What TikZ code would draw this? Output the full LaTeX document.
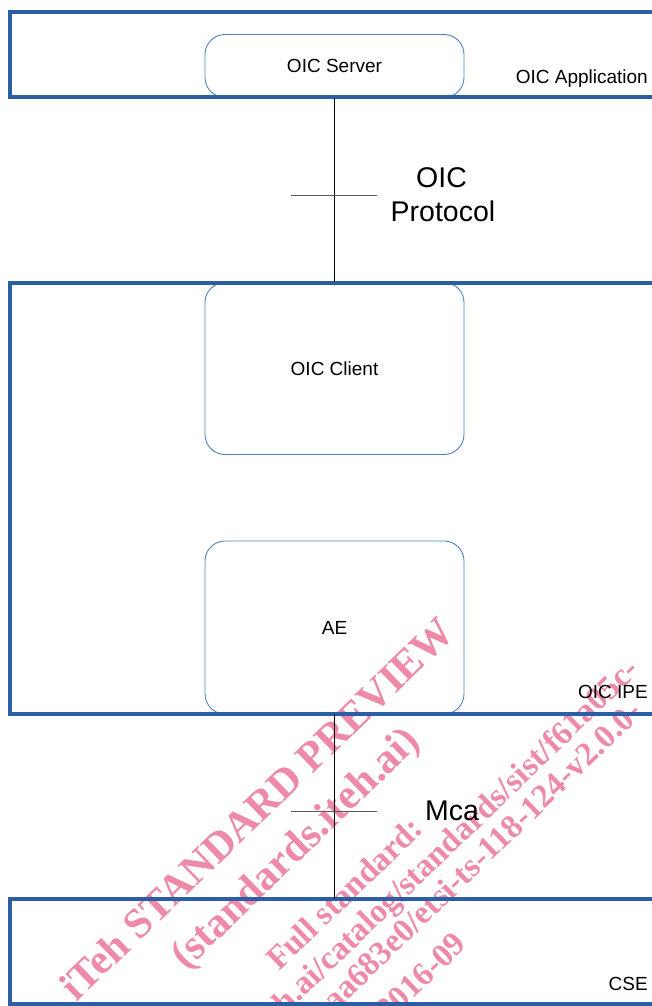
\documentclass[tikz,border=0pt]{standalone}
\usepackage{fontspec}
\setmainfont{Liberation Sans}
\newfontfamily\wmfont{Liberation Serif}
\definecolor{frameblue}{RGB}{44,94,164}
\definecolor{boxblue}{RGB}{79,129,189}
\definecolor{wmpink}{RGB}{238,138,168}
\begin{document}
\begin{tikzpicture}[x=1pt,y=-1pt,
  frame/.style={draw=frameblue,line width=4pt},
  comp/.style={draw=boxblue,line width=0.9pt,rounded corners=20pt,minimum width=259pt,inner sep=0pt,font=\fontsize{19}{22}\selectfont},
  lbl/.style={inner sep=0pt,font=\fontsize{19}{22}\selectfont},
  big/.style={inner sep=0pt,font=\fontsize{28.5}{34}\selectfont},
  link/.style={draw=black,line width=1pt},
  tick/.style={draw=black!65,line width=1pt},
  wm/.style={text=wmpink,font=\wmfont\bfseries\fontsize{#1}{#1}\selectfont,inner sep=0pt,rotate=44},
]
\useasboundingbox (0,0) rectangle (652,1006);
\begin{scope}
\clip (0,0) rectangle (652,1006);
% watermark
\node[wm=42,anchor=base west] (wm1) at (76,1003) {iTeh STANDARD PREVIEW};
\node[wm=42,anchor=base west] (wm2) at (186,971) {(standards.iteh.ai)};
\node[wm=33,anchor=base west] (wm3) at (279,972) {Full standard:};
\node[wm=33,anchor=base east] (wm4) at (641,672) {https://standards.iteh.ai/catalog/standards/sist/f61a05c-};
\node[wm=33,anchor=base east] (wm5) at (644,714) {feaa683e0/etsi-ts-118-124-v2.0.0-};
\node[wm=33,anchor=base east] (wm6) at (468,946) {2016-09};
% components
\node[comp,minimum height=63pt] (server) at (334.5,66) {OIC Server};
\node[comp,minimum height=172pt] (client) at (334.5,368.5) {OIC Client};
\node[comp,minimum height=173pt] (ae) at (334.5,627.5) {AE};
% frames
\draw[frame] (656,12) -- (10,12) -- (10,97) -- (656,97);
\draw[frame] (656,283) -- (10,283) -- (10,714) -- (656,714);
\draw[frame] (656,899) -- (10,899) -- (10,1004) -- (656,1004);
\node[lbl,anchor=base east] (app) at (648,84) {OIC Application};
\node[lbl,anchor=base east] (ipe) at (648,698) {OIC IPE};
\node[lbl,anchor=base east] (cse) at (648,990) {CSE};
% links
\coordinate (csetop) at (334.5,899);
\draw[link] (server.south) -- (client.north);
\draw[link] (ae.south) -- (csetop);
\coordinate (t1a) at (291,195);
\coordinate (t1b) at (377,195);
\coordinate (t2a) at (291,811.5);
\coordinate (t2b) at (377,811.5);
\draw[tick] (t1a) -- (t1b);
\draw[tick] (t2a) -- (t2b);
\node[big,anchor=base] (oic) at (441.5,187) {OIC};
\node[big,anchor=base] (protocol) at (443,221) {Protocol};
\node[big,anchor=base west] (mca) at (425,820) {Mca};
\end{scope}
\end{tikzpicture}
\end{document}
